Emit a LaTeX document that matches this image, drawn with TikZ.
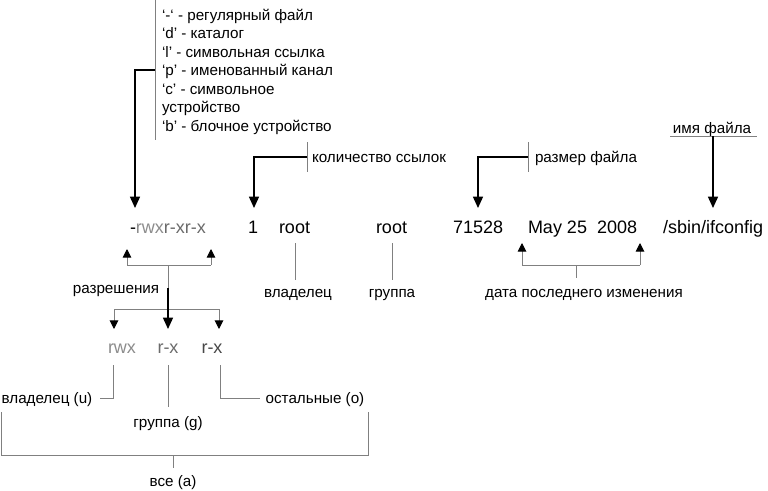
\documentclass[tikz,border=0pt]{standalone}
\usepackage{fontspec}
\setmainfont{Liberation Sans}
\usetikzlibrary{arrows.meta}
\newcommand{\unitpx}{0.75pt}
\newcommand{\bigtext}{\fontsize{13.5}{16}\selectfont}
\newcommand{\smalltext}{\fontsize{11.4}{13.9}\selectfont}
\definecolor{permlight}{gray}{0.55}
\definecolor{permmid}{gray}{0.42}
\definecolor{permdark}{gray}{0.28}
\definecolor{leadgray}{gray}{0.5}

\begin{document}
\begin{tikzpicture}[x=\unitpx,y=-\unitpx]
\useasboundingbox (0,0) rectangle (768,490);
\tikzstyle{every node}=[inner sep=0pt,
			outer sep=0pt,
			font=\smalltext
			]
\tikzstyle{field}=[anchor=base west, font=\bigtext]
\tikzstyle{tag}=[anchor=base]
\tikzstyle{leadline}=[leadgray, line width=0.75pt]
\tikzstyle{pointer}=[black, line width=1.1pt, -{Triangle[width=7.5pt,length=8.5pt]}]
\tikzstyle{smallpointer}=[leadline, -{Triangle[black,width=6.5pt,length=6.5pt]}]

% main line
\node[field] (mode) at (130,233) {-\textcolor{permlight}{rwx}\textcolor{permmid}{r-xr-x}};

\node[field] (links) at (248,233) {1};

\node[field] (owner) at (279,233) {root};

\node[field] (group) at (376,233) {root};

\node[field] (size) at (453,233) {71528};

\node[field] (date) at (528,233) {May 25\ \ 2008};

\node[field] (fname) at (663,233) {/sbin/ifconfig};

% file type legend
\node[anchor=north west, align=left] (legend) at (162,9) {‘-‘ - регулярный файл\\
‘d’ - каталог\\
‘l’ - символьная ссылка\\
‘p’ - именованный канал\\
‘c’ - символьное\\
устройство\\
‘b’ - блочное устройство};

\coordinate (legtop) at (155,0);
\coordinate (legbot) at (155,140);
\coordinate (legjoin) at (155,70);
\coordinate (modetip) at (135,208);
\draw[leadline] (legtop) -- (legbot);
\draw[pointer] (legjoin) -| (modetip);

% links count
\node[tag, anchor=base west] (linkslabel) at (312,162) {количество ссылок};
\coordinate (linkstop) at (307,142);
\coordinate (linksbot) at (307,172);
\coordinate (linksjoin) at (307,157);
\coordinate (linkstip) at (254,208);
\draw[leadline] (linkstop) -- (linksbot);
\draw[pointer] (linksjoin) -| (linkstip);

% file size
\node[tag, anchor=base west] (sizelabel) at (535,162) {размер файла};
\coordinate (sizetop) at (528,142);
\coordinate (sizebot) at (528,172);
\coordinate (sizejoin) at (528,157);
\coordinate (sizetip) at (478,208);
\draw[leadline] (sizetop) -- (sizebot);
\draw[pointer] (sizejoin) -| (sizetip);

% file name
\node[tag] (namelabel) at (712,133) {имя файла};
\coordinate (nameleft) at (670,136);
\coordinate (nameright) at (757,136);
\coordinate (namejoin) at (713,136);
\coordinate (nametip) at (713,208);
\draw[leadline] (nameleft) -- (nameright);
\draw[pointer] (namejoin) -- (nametip);

% owner and group
\node[tag] (ownerlabel) at (298,297) {владелец};
\coordinate (ownertop) at (295,243);
\coordinate (ownerbot) at (295,280);
\draw[leadline] (ownertop) -- (ownerbot);

\node[tag] (grouplabel) at (392,297) {группа};
\coordinate (grouptop) at (392,243);
\coordinate (groupbot) at (392,280);
\draw[leadline] (grouptop) -- (groupbot);

% modification date
\node[tag] (datelabel) at (584,297) {дата последнего изменения};
\coordinate (dateleft) at (522,265);
\coordinate (dateright) at (640,265);
\coordinate (dateleftip) at (522,243);
\coordinate (daterighttip) at (640,243);
\coordinate (datejoin) at (576,265);
\coordinate (datestem) at (576,278);
\draw[smallpointer] (dateleft) -- (dateleftip);
\draw[smallpointer] (dateright) -- (daterighttip);
\draw[leadline] (dateleft) -- (dateright);
\draw[leadline] (datejoin) -- (datestem);

% permissions
\node[tag] (permlabel) at (116,293) {разрешения};
\coordinate (permleft) at (127,265);
\coordinate (permright) at (211,265);
\coordinate (permlefttip) at (127,249);
\coordinate (permrighttip) at (211,249);
\coordinate (permjoin) at (168,265);
\coordinate (permsplit) at (168,309);
\coordinate (permstart) at (168,288);
\draw[smallpointer] (permleft) -- (permlefttip);
\draw[smallpointer] (permright) -- (permrighttip);
\draw[leadline] (permleft) -- (permright);
\draw[leadline] (permjoin) -- (permsplit);

\node[tag, font=\bigtext, text=permlight] (uperm) at (122,353) {rwx};

\node[tag, font=\bigtext, text=permmid] (gperm) at (168,353) {r-x};

\node[tag, font=\bigtext, text=permdark] (operm) at (212,353) {r-x};

\coordinate (splitleft) at (114,309);
\coordinate (splitright) at (219,309);
\coordinate (ulefttip) at (114,329);
\coordinate (orighttip) at (219,329);
\coordinate (gtip) at (168,329);
\draw[leadline] (splitleft) -- (splitright);
\draw[smallpointer] (splitleft) -- (ulefttip);
\draw[smallpointer] (splitright) -- (orighttip);
\draw[pointer] (permstart) -- (gtip);

% user, group, others, all
\node[tag] (ulabel) at (47,403) {владелец (u)};
\coordinate (utop) at (113,365);
\coordinate (uend) at (100,398);
\draw[leadline] (utop) |- (uend);

\node[tag] (glabel) at (168,427) {группа (g)};
\coordinate (gtop) at (168,365);
\coordinate (gend) at (168,407);
\draw[leadline] (gtop) -- (gend);

\node[tag] (olabel) at (315,403) {остальные (o)};
\coordinate (otop) at (220,365);
\coordinate (oend) at (260,398);
\draw[leadline] (otop) |- (oend);

\node[tag] (alabel) at (173,486) {все (a)};
\coordinate (allleft) at (1,412);
\coordinate (allright) at (368,412);
\coordinate (allbotleft) at (1,455);
\coordinate (allbotright) at (368,455);
\coordinate (alljoin) at (173,455);
\coordinate (allstem) at (173,468);
\draw[leadline] (allleft) -- (allbotleft) -- (allbotright) -- (allright);
\draw[leadline] (alljoin) -- (allstem);

\end{tikzpicture}
\end{document}
